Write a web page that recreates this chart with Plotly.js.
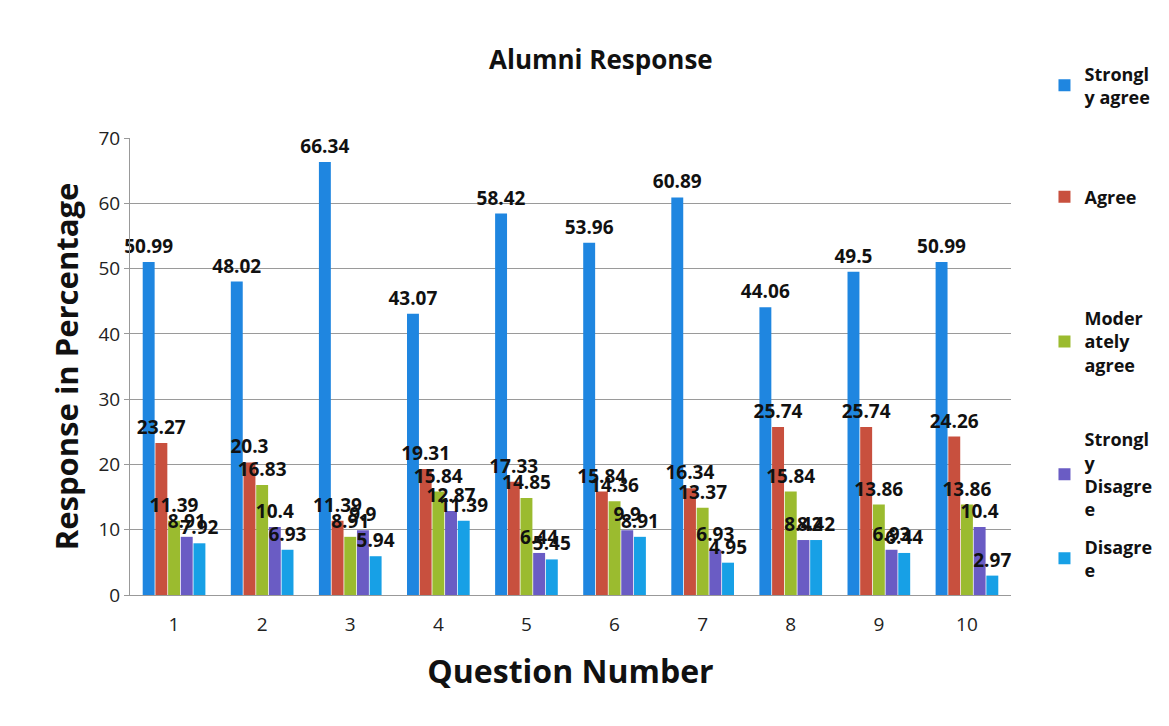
<!DOCTYPE html>
<html>
<head>
<meta charset="utf-8">
<script src="https://cdn.plot.ly/plotly-3.0.1.min.js"></script>
<style>html,body{margin:0;padding:0;background:#fff;}#chart{width:1169px;height:726px;}</style>
</head>
<body>
<div id="chart"></div>
<script>
const questions = ['1','2','3','4','5','6','7','8','9','10'];
const seriesNames = ['Strongl<br>y agree','Agree','Moder<br>ately<br>agree','Strongl<br>y<br>Disagre<br>e','Disagre<br>e'];
const stronglyAgree = [50.99, 48.02, 66.34, 43.07, 58.42, 53.96, 60.89, 44.06, 49.5, 50.99];
const agree = [23.27, 20.3, 11.39, 19.31, 17.33, 15.84, 16.34, 25.74, 25.74, 24.26];
const moderatelyAgree = [11.39, 16.83, 8.91, 15.84, 14.85, 14.36, 13.37, 15.84, 13.86, 13.86];
const stronglyDisagree = [8.91, 10.4, 9.9, 12.87, 6.44, 9.9, 6.93, 8.42, 6.93, 10.4];
const disagree = [7.92, 6.93, 5.94, 11.39, 5.45, 8.91, 4.95, 8.42, 6.44, 2.97];
const yTicks = [0,10,20,30,40,50,60,70];

const colors = ['#1f86e0', '#c8503e', '#9bbb2f', '#6a5cc4', '#17a0e6'];
const allSeries = [stronglyAgree, agree, moderatelyAgree, stronglyDisagree, disagree];
const legendIds = ['legend', 'legend2', 'legend3', 'legend4', 'legend5'];
const legendTops = [1.181, 0.911, 0.646, 0.381, 0.146];

const FONT = 'Open Sans, Liberation Sans, sans-serif';

const traces = allSeries.map((vals, i) => ({
  type: 'bar',
  x: questions,
  y: vals,
  name: seriesNames[i],
  legend: legendIds[i],
  marker: {color: colors[i]},
  text: vals.map(v => String(v)),
  textposition: 'outside',
  constraintext: 'none',
  cliponaxis: false,
  textfont: {family: FONT, size: 19, color: '#111', weight: 'bold'},
  hoverinfo: 'x+y+name'
}));

const layout = {
  width: 1169,
  height: 726,
  paper_bgcolor: '#ffffff',
  plot_bgcolor: '#ffffff',
  margin: {l: 130, r: 144, t: 138, b: 131},
  title: {
    text: '<b>Alumni Response</b>',
    x: 0.514, xanchor: 'center',
    y: 0.918, yanchor: 'middle',
    font: {family: FONT, size: 26, color: '#111'}
  },
  barmode: 'group',
  bargap: 0.28,
  bargroupgap: 0.06,
  xaxis: {
    type: 'category',
    title: {text: '<b>Question Number</b>', font: {family: FONT, size: 32, color: '#111'}, standoff: 24},
    tickfont: {family: FONT, size: 19, color: '#222'},
    ticklabelstandoff: 12,
    showline: true, linecolor: '#999', linewidth: 1,
    ticks: '', showgrid: false
  },
  yaxis: {
    range: [0, 70],
    tickvals: yTicks,
    ticktext: yTicks.map(String),
    title: {text: '<b>Response in Percentage</b>', font: {family: FONT, size: 31, color: '#111'}, standoff: 10},
    tickfont: {family: FONT, size: 19, color: '#222'},
    showgrid: true, gridcolor: '#9a9a9a', gridwidth: 1,
    showline: true, linecolor: '#999', linewidth: 1,
    ticks: 'outside', ticklen: 5, tickcolor: '#999',
    zeroline: false
  },
  showlegend: true
};

legendIds.forEach((id, i) => {
  layout[id] = {
    x: 1.038, xanchor: 'left',
    y: legendTops[i], yanchor: 'top',
    font: {family: FONT, size: 18, color: '#111', weight: 'bold'},
    itemwidth: 30,
    maxheight: 400,
    bgcolor: 'rgba(0,0,0,0)'
  };
});

Plotly.newPlot('chart', traces, layout, {displayModeBar: false});
</script>
</body>
</html>
